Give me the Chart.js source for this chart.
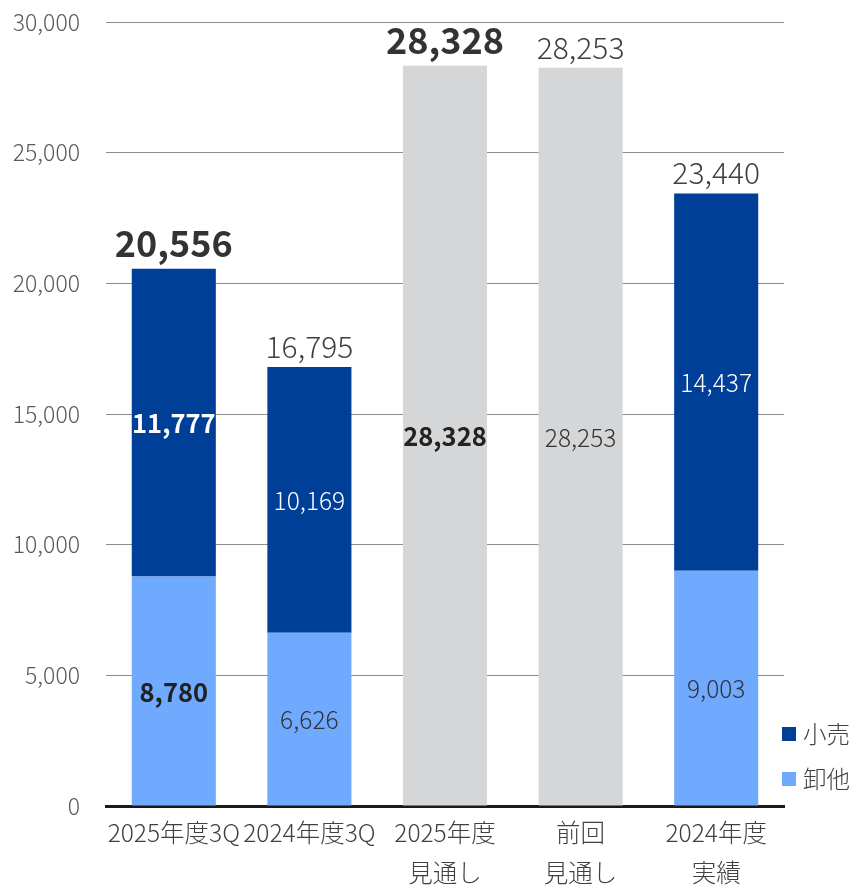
<!DOCTYPE html>
<html><head><meta charset="utf-8">
<script src="https://cdn.jsdelivr.net/npm/chart.js@4"></script>
<style>html,body{margin:0;padding:0;background:#fff}#wrap{width:852px;height:886px;position:relative}</style>
</head><body><div id="wrap"><canvas id="c" width="852" height="886"></canvas></div>
<script>
const categories = [['2025年度3Q'], ['2024年度3Q'], ['2025年度', '見通し'], ['前回', '見通し'], ['2024年度', '実績']];
const wholesale = [8780, 6626, null, null, 9003];     // 卸他
const retail = [11777, 10169, null, null, 14437];     // 小売
const forecast = [null, null, 28328, 28253, null];    // 見通し
const totals = [20556, 16795, 28328, 28253, 23440];
const emphasis = [true, false, true, false, false];
const yTicks = [0, 5000, 10000, 15000, 20000, 25000, 30000];

const FONT = '"Noto Sans CJK JP", "Noto Sans", sans-serif';
const fmt = v => Number(v).toLocaleString('en-US');

const labelPlugin = {
  id: 'labels',
  afterDatasetsDraw(chart) {
    const ctx = chart.ctx;
    ctx.save();
    ctx.textAlign = 'center';
    const tops = [];
    chart.data.datasets.forEach((ds, di) => {
      const meta = chart.getDatasetMeta(di);
      meta.data.forEach((el, i) => {
        const v = ds.data[i];
        if (v == null) return;
        const b = emphasis[i];
        ctx.font = (b ? 'bold 25.5px ' : '300 24.5px ') + FONT;
        ctx.fillStyle = ds.labelColor || '#333';
        if (b && !ds.labelColor) ctx.fillStyle = '#222';
        ctx.textBaseline = 'middle';
        ctx.fillText(fmt(v), el.x, (el.y + el.base) / 2 + 1);
        if (tops[i] == null || el.y < tops[i].y) tops[i] = {x: el.x, y: el.y};
      });
    });
    tops.forEach((t, i) => {
      if (!t) return;
      const b = emphasis[i];
      ctx.font = (b ? 'bold 36px ' : '300 30px ') + FONT;
      ctx.fillStyle = b ? '#333' : '#404040';
      ctx.textBaseline = 'alphabetic';
      ctx.fillText(fmt(totals[i]), t.x, t.y - (b ? 12 : 9));
    });
    // legend
    const items = [{label: chart.data.datasets[1].label, color: chart.data.datasets[1].backgroundColor},
                   {label: chart.data.datasets[0].label, color: chart.data.datasets[0].backgroundColor}];
    ctx.textAlign = 'left';
    ctx.textBaseline = 'middle';
    ctx.font = '300 23.5px ' + FONT;
    items.forEach((it, k) => {
      const y = 734 + k * 45;
      ctx.fillStyle = it.color;
      ctx.fillRect(782, y - 7, 14, 14);
      ctx.fillStyle = '#404040';
      ctx.fillText(it.label, 803, y);
    });
    ctx.restore();
  }
};

new Chart(document.getElementById('c'), {
  type: 'bar',
  data: {
    labels: categories,
    datasets: [
      {label: '卸他', data: wholesale, backgroundColor: '#70aaff'},
      {label: '小売', data: retail, backgroundColor: '#003f98', labelColor: '#ffffff'},
      {label: '見通し', data: forecast, backgroundColor: '#d5d6d8'}
    ]
  },
  options: {
    responsive: false,
    animation: false,
    layout: {padding: {left: 0, right: 68, top: 22, bottom: 0}},
    plugins: {legend: {display: false}, tooltip: {enabled: false}},
    datasets: {bar: {categoryPercentage: 1, barPercentage: 0.62}},
    scales: {
      x: {
        stacked: true,
        grid: {display: false, drawTicks: false},
        border: {display: true, color: '#1a1a1a', width: 3},
        ticks: {color: '#404040', font: {family: FONT, size: 24.5, weight: 300, lineHeight: 1.65}, padding: 6, maxRotation: 0, autoSkip: false},
        afterFit(s) { s.height = 80; s.paddingLeft = 0; s.paddingRight = 0; }
      },
      y: {
        stacked: true,
        min: 0, max: 30000,
        afterBuildTicks(s) { s.ticks = yTicks.map(v => ({value: v})); },
        grid: {color: '#8c8c8c', lineWidth: 1, drawTicks: false},
        border: {display: false},
        ticks: {color: '#595959', font: {family: FONT, size: 23, weight: 300}, padding: 26, callback: v => fmt(v)},
        afterFit(s) { s.width = 106; s.paddingTop = 0; s.paddingBottom = 0; }
      }
    }
  },
  plugins: [labelPlugin]
});
</script></body></html>
